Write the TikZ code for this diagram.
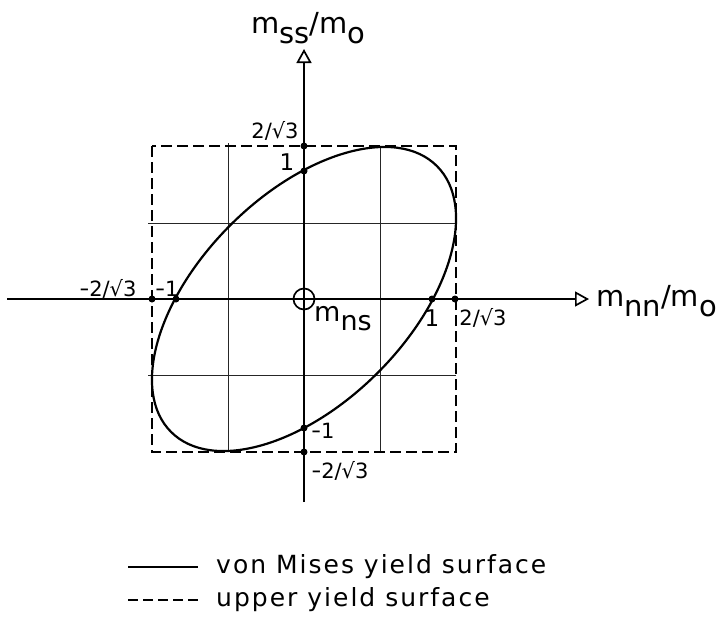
\documentclass[tikz,border=0pt]{standalone}
\usepackage{fontspec}
\setmainfont{DejaVu Sans}
\newfontfamily\legfont[LetterSpace=8]{DejaVu Sans}
\usetikzlibrary{arrows.meta}
\newcommand\lowr[1]{\raisebox{-0.36em}{#1}}
\newcommand\shortminus{\scalebox{0.55}[1]{−}}
\begin{document}
\begin{tikzpicture}[x=1pt,y=-1pt,
  axisline/.style={line width=2pt,-{Triangle[open,length=14pt,width=15pt,line width=1.7pt]}},
  curve/.style={line width=2.2pt},
  upper/.style={line width=2pt,dash pattern=on 11pt off 5pt},
  gridline/.style={line width=0.9pt,black!85},
  dot/.style={circle,fill=black,inner sep=0pt,minimum size=7pt},
  tick/.style={inner sep=0pt,font=\fontsize{21}{23}\selectfont},
  tickone/.style={inner sep=0pt,font=\fontsize{23}{25}\selectfont},
  axlabel/.style={inner sep=0pt,anchor=base west,font=\fontsize{29}{31}\selectfont},
  legtext/.style={inner sep=0pt,anchor=base west,font=\fontsize{25}{27}\legfont}]
\useasboundingbox (0,0) rectangle (718,625);
% key points
\coordinate (O) at (304,299);
\coordinate (xs) at (7,299);
\coordinate (xe) at (589,299);
\coordinate (ys) at (304,502);
\coordinate (ye) at (304,49);
\coordinate (sq1) at (152,146);
\coordinate (sq2) at (456,452);
% grid lines
\coordinate (g1t) at (228,143); \coordinate (g1b) at (228,452);
\coordinate (g2t) at (380,146); \coordinate (g2b) at (380,452);
\coordinate (g3l) at (148,223); \coordinate (g3r) at (456,223);
\coordinate (g4l) at (148,375); \coordinate (g4r) at (456,375);
\draw[gridline] (g1t) -- (g1b);
\draw[gridline] (g2t) -- (g2b);
\draw[gridline] (g3l) -- (g3r);
\draw[gridline] (g4l) -- (g4r);
% upper yield surface
\draw[upper] (sq1) rectangle (sq2);
% von Mises ellipse
\draw[curve,rotate around={45:(O)}] (O) ellipse [x radius=188pt, y radius=104.3pt];
% axes
\draw[axisline] (xs) -- (xe);
\draw[axisline] (ys) -- (ye);
% origin circle
\node[circle,draw,line width=1.7pt,minimum size=21pt,inner sep=0pt] (oc) at (O) {};
% dots
\node[dot] (dt2) at (304,146) {};
\node[dot] (dt1) at (304,171) {};
\node[dot] (db1) at (304,428) {};
\node[dot] (db2) at (304,452) {};
\node[dot] (dl2) at (152,299) {};
\node[dot] (dl1) at (176,299) {};
\node[dot] (dr1) at (432,299) {};
\node[dot] (dr2) at (455,299) {};
% tick labels
\node[tick] (lt2) at (275,131) {2/√3};
\node[tickone] (lt1) at (287,162) {1};
\node[tick] (ll2) at (108,289) {\shortminus2/√3};
\node[tick] (ll1) at (167,289) {\shortminus1};
\node[tickone] (lr1) at (432,318) {1};
\node[tick] (lr2) at (483,318) {2/√3};
\node[tick] (lb1) at (323,431) {\shortminus1};
\node[tick] (lb2) at (340,471) {\shortminus2/√3};
% axis labels
\node[axlabel] (ylab) at (251,33) {m\lowr{ss}/m\lowr{o}};
\node[axlabel] (xlab) at (596,306) {m\lowr{nn}/m\lowr{o}};
\node[axlabel,font=\fontsize{27}{29}\selectfont] (mns) at (314,321) {m\lowr{ns}};
% legend
\coordinate (l1a) at (128,567); \coordinate (l1b) at (198,567);
\coordinate (l2a) at (128,600); \coordinate (l2b) at (198,600);
\draw[line width=1.5pt] (l1a) -- (l1b);
\draw[line width=1.5pt,dash pattern=on 10pt off 5pt] (l2a) -- (l2b);
\node[legtext] (leg1) at (216,573) {von Mises yield surface};
\node[legtext] (leg2) at (216,606) {upper yield surface};
\end{tikzpicture}
\end{document}
